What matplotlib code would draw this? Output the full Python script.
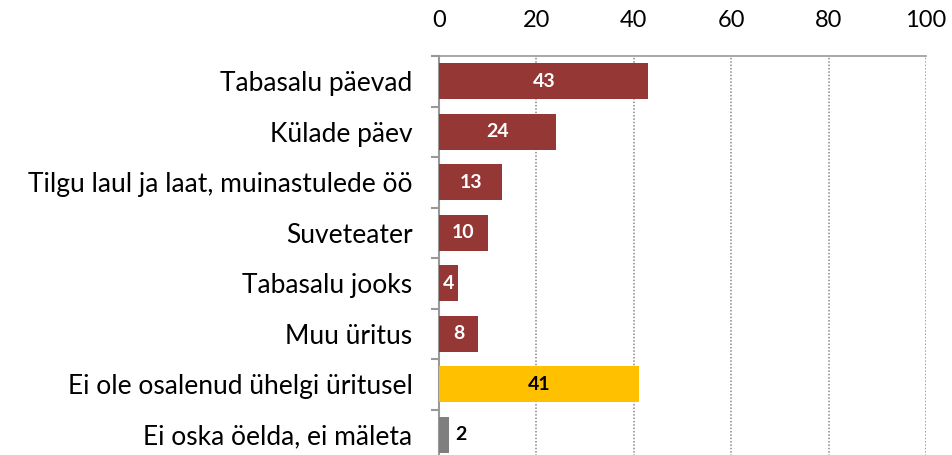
import numpy as np
import matplotlib.pyplot as plt

plt.rcParams['font.family'] = ['Lato', 'DejaVu Sans']

# data
categories = ["Tabasalu päevad", "Külade päev", "Tilgu laul ja laat, muinastulede öö",
              "Suveteater", "Tabasalu jooks", "Muu üritus",
              "Ei ole osalenud ühelgi üritusel", "Ei oska öelda, ei mäleta"]
values = [43, 24, 13, 10, 4, 8, 41, 2]
colors = ["#953735"] * 6 + ["#FFC000", "#7F7F7F"]
label_colors = ["white"] * 6 + ["black", "black"]
xticks = [0, 20, 40, 60, 80, 100]

fig = plt.figure(figsize=(9.52, 4.55), dpi=100)
ax = fig.add_axes([439 / 952, 1 - 460 / 455, 487 / 952, 404 / 455])

y = np.arange(len(categories))
ax.barh(y, values, height=0.71, color=colors, zorder=3)
ax.set_ylim(len(categories) - 0.5, -0.5)
ax.set_xlim(0, 100)

for i, v in enumerate(values):
    if v < 3:
        ax.text(v + 1.3, i, str(v), va='center', ha='left', fontsize=14,
                fontweight='bold', color=label_colors[i], zorder=4)
    else:
        ax.text(v / 2, i, str(v), va='center', ha='center', fontsize=14,
                fontweight='bold', color=label_colors[i], zorder=4)

ax.xaxis.tick_top()
ax.set_xticks(xticks)
ax.set_xticklabels([str(t) for t in xticks], fontsize=17)
ax.tick_params(axis='x', length=0, pad=18)
ax.grid(axis='x', linestyle=(0, (1, 1.2)), color='#888888', linewidth=1.1, zorder=0)

ax.set_yticks(y)
ax.set_yticklabels(categories, fontsize=19)
ax.set_yticks(np.arange(len(categories) + 1) - 0.5, minor=True)
ax.tick_params(axis='y', which='major', length=0, pad=19)
ax.tick_params(axis='y', which='minor', length=6, color='#999999', width=1.5)

for s in ['right', 'bottom']:
    ax.spines[s].set_visible(False)
ax.spines['left'].set_color('#999999')
ax.spines['left'].set_linewidth(1.5)
ax.spines['top'].set_color('#999999')
ax.spines['top'].set_linewidth(1.2)

fig.savefig('out.png', dpi=100)
